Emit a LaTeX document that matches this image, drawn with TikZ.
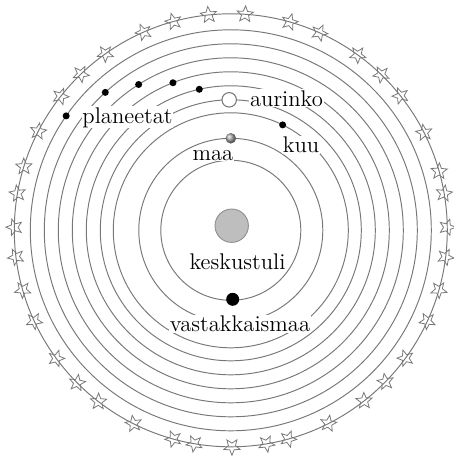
\documentclass[tikz,border=0pt]{standalone}
\usepackage{tikz}
\usetikzlibrary{shapes.geometric}
\definecolor{orbitgray}{RGB}{120,120,120}
\definecolor{firegray}{RGB}{190,190,190}

\begin{document}
\begin{tikzpicture}[x=.02cm,y=.02cm,font=\fontsize{12.9}{15}\selectfont,
orbit/.style={draw=orbitgray,line width=.55pt},
starry/.style={star,star points=5,star point ratio=2.3,draw=orbitgray,line width=.45pt,minimum size=.34cm,inner sep=0pt},
planet/.style={circle,fill=black,inner sep=0pt,minimum size=.14cm},
lbl/.style={fill=white,inner sep=.5pt,anchor=base}]
\useasboundingbox(-230.8,-230.7)rectangle(223.2,230.3);
\foreach \r in {70,92,117.5,130.5,144.5,158.5,172.5,186.5,200.5,216.5}
  \draw[orbit](0,0)circle(\r);
\foreach \a [count=\i] in {95.9,86.2,105.4,74.2,113.8,65.8,125.4,54.1,133.8,46.0,141.8,38.4,
  152.8,26.8,162.9,15.8,170.2,9.8,179.2,0.8,187.1,-7.1,196,-16,204.8,-24.8,216.3,-36.2,
  224.8,-44.4,232.3,-52,243.3,-63.2,254.6,-74.6,260.3,-80.5,270.3}
  \node[starry,rotate=\a-90](star\i)at(\a:216.5){};
\node[circle,draw=black!45,fill=firegray,line width=.5pt,minimum size=.668cm,inner sep=0pt](fire)at(0.9,4.6){};
\node[circle,fill=black,inner sep=0pt,minimum size=.26cm](anti)at(1.9,-69){};
\node[circle,ball color=black!35,inner sep=0pt,minimum size=.21cm](earth)at(90:92){};
\node[planet](moon)at(63.8:117.5){};
\node[circle,draw=orbitgray,fill=white,line width=.6pt,inner sep=0pt,minimum size=.29cm](sun)at(90.7:130.5){};
\foreach \a/\r [count=\i] in {102.6/144.5,111.4/158.5,122.3/172.5,132.3/186.5,145.2/200.5}
  \node[planet](p\i)at(\a:\r){};
\node[lbl](planeetat)at(-103.3,107.3){planeetat};
\node[lbl](aurinko)at(55.7,124.3){aurinko};
\node[lbl](kuu)at(70.2,77.6){kuu};
\node[lbl](maa)at(-17.8,70.3){maa};
\node[lbl](keskustuli)at(6.7,-38.7){keskustuli};
\node[lbl](vastakkaismaa)at(9.2,-101.2){vastakkaismaa};
\end{tikzpicture}
\end{document}
